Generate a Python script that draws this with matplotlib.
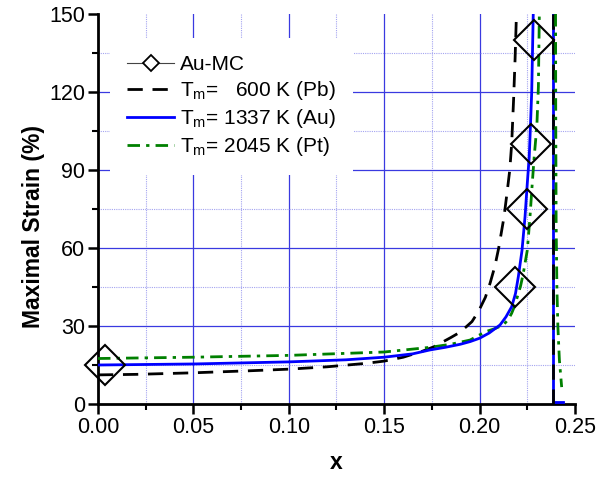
import matplotlib
matplotlib.use("Agg")
import matplotlib.pyplot as plt
from matplotlib.lines import Line2D
from matplotlib.ticker import MultipleLocator, FixedLocator

plt.rcParams['font.family'] = ['Liberation Sans', 'DejaVu Sans']

# Au-MC simulation points
mc_x = [0.0035, 0.2184, 0.2247, 0.2268, 0.2287]
mc_y = [15, 45, 75, 100, 140]

# Tm = 600 K (Pb)
pb_x = [0.0, 0.02, 0.05, 0.08, 0.10, 0.12, 0.14, 0.15, 0.16, 0.17, 0.176, 0.181,
        0.185, 0.189, 0.193, 0.196, 0.198, 0.200, 0.203, 0.2055, 0.208, 0.210,
        0.2128, 0.2145, 0.2158, 0.2168, 0.2178, 0.2186, 0.2193]
pb_y = [11.2, 11.4, 12.0, 12.8, 13.4, 14.3, 15.6, 16.5, 18.0, 20.3, 22.0, 24.0,
        25.6, 27.3, 29.7, 31.7, 34.0, 36.5, 41.0, 46.5, 53.0, 60.0,
        72.0, 82.0, 90.0, 100.0, 117.0, 133.0, 150.0]
pb_tail_x = [0.2385, 0.2385]
pb_tail_y = [150, 0]

# Tm = 1337 K (Au)
au_x = [0.0, 0.05, 0.10, 0.13, 0.15, 0.165, 0.174, 0.182, 0.190, 0.195, 0.200,
        0.205, 0.2107, 0.2138, 0.2168, 0.2188, 0.2203, 0.2222, 0.2238, 0.2250,
        0.2260, 0.2268, 0.2273, 0.2277, 0.2281]
au_y = [15.0, 15.4, 16.2, 17.0, 18.0, 19.3, 20.8, 21.8, 23.0, 24.0, 25.3,
        27.3, 30.4, 33.5, 37.4, 42.5, 49.0, 59.0, 72.0, 85.0,
        95.0, 110.0, 120.0, 135.0, 150.0]
au_tail_x = [0.2385, 0.2385, 0.2435]
au_tail_y = [150, 0.6, 0.6]

# Tm = 2045 K (Pt)
pt_x = [0.0, 0.05, 0.10, 0.15, 0.174, 0.185, 0.195, 0.2031, 0.208, 0.2124,
        0.2150, 0.2168, 0.2185, 0.2198, 0.2215, 0.2229, 0.2250, 0.2264, 0.2276,
        0.2286, 0.2300, 0.2308, 0.2313]
pt_y = [17.5, 18.0, 18.7, 20.0, 21.8, 23.0, 24.6, 27.8, 29.0, 30.4,
        32.5, 34.9, 38.0, 41.3, 45.5, 50.3, 59.2, 72.0, 85.0,
        95.0, 107.0, 122.0, 150.0]
pt_tail_x = [0.2398, 0.2399, 0.2401, 0.2405, 0.2410, 0.2418, 0.2430]
pt_tail_y = [150, 110, 70, 45, 30, 17, 6.5]

labels = ["Au-MC", r"T$_\mathregular{m}$=   600 K (Pb)",
          r"T$_\mathregular{m}$= 1337 K (Au)", r"T$_\mathregular{m}$= 2045 K (Pt)"]

xticks = [0.00, 0.05, 0.10, 0.15, 0.20, 0.25]
yticks = [0, 30, 60, 90, 120, 150]

BLUE = '#0000ff'
GREEN = '#008000'
GRID = '#3a3ae0'
MINOR = '#a4a4f0'

fig = plt.figure(figsize=(6.15, 4.78), dpi=100)
ax = fig.add_axes([0.1593, 0.1548, 0.9350 - 0.1593, 0.9707 - 0.1548])

ax.set_xlim(0, 0.25)
ax.set_ylim(0, 150)

pb_dash = (0, (5.5, 3.5))
pt_dash = (0, (4.5, 2.2, 1.2, 2.2))

ax.plot(au_tail_x, au_tail_y, color=BLUE, lw=2.0, zorder=3)
ax.plot(pb_tail_x, pb_tail_y, color='black', lw=2.0, linestyle=pb_dash, zorder=4)
ax.plot(pt_tail_x, pt_tail_y, color=GREEN, lw=2.0, linestyle=pt_dash, zorder=4)

ax.plot(pb_x, pb_y, color='black', lw=2.0, linestyle=pb_dash, zorder=3)
ax.plot(pt_x, pt_y, color=GREEN, lw=2.0, linestyle=pt_dash, zorder=3)
ax.plot(au_x, au_y, color=BLUE, lw=2.0, zorder=4)
ax.plot(mc_x, mc_y, linestyle='none', marker='D', ms=20, mfc='none', mec='black',
        mew=1.5, zorder=5, clip_on=False)

ax.xaxis.set_major_locator(FixedLocator(xticks))
ax.yaxis.set_major_locator(FixedLocator(yticks))
ax.xaxis.set_minor_locator(MultipleLocator(0.025))
ax.yaxis.set_minor_locator(MultipleLocator(15))
ax.set_xticklabels([f"{v:.2f}" for v in xticks])
ax.set_yticklabels([str(v) for v in yticks])

ax.grid(True, which='major', color=GRID, lw=0.9, linestyle='-', zorder=0)
ax.grid(True, which='minor', color=MINOR, lw=0.8, linestyle=(0, (1, 1)), zorder=0)
ax.set_axisbelow(True)
fig.canvas.draw()
for t in ax.xaxis.get_major_ticks():
    if abs(t.get_loc() - 0.25) < 1e-9 or abs(t.get_loc()) < 1e-9:
        t.gridline.set_visible(False)
for t in ax.yaxis.get_major_ticks():
    if abs(t.get_loc() - 150) < 1e-9 or abs(t.get_loc()) < 1e-9:
        t.gridline.set_visible(False)

for s in ['top', 'right']:
    ax.spines[s].set_visible(False)
for s in ['left', 'bottom']:
    ax.spines[s].set_linewidth(2.0)

ax.tick_params(which='major', direction='out', length=7, width=1.8, labelsize=15.5,
               pad=2)
ax.tick_params(which='minor', direction='out', length=4, width=1.5)

ax.set_xlabel("x", fontsize=16.5, fontweight='bold', labelpad=10)
ax.set_ylabel("Maximal Strain (%)", fontsize=16.5, fontweight='bold')
ax.yaxis.set_label_coords(-0.111, 0.454)

handles = [
    Line2D([], [], color='#444444', lw=0.8, marker='D', ms=8, mfc='white', mec='black', mew=1.3),
    Line2D([], [], color='black', lw=2.0, linestyle=pb_dash),
    Line2D([], [], color=BLUE, lw=2.0),
    Line2D([], [], color=GREEN, lw=2.0, linestyle=pt_dash),
]
leg = ax.legend(handles, labels, loc='upper left', bbox_to_anchor=(0.025, 0.938),
                fontsize=15, frameon=True, fancybox=False, framealpha=1.0,
                edgecolor='none', facecolor='white', handlelength=2.3,
                handletextpad=0.27, labelspacing=0.24, borderpad=0.8,
                borderaxespad=0.0)
leg.set_zorder(6)

fig.savefig("out.png", dpi=100)
